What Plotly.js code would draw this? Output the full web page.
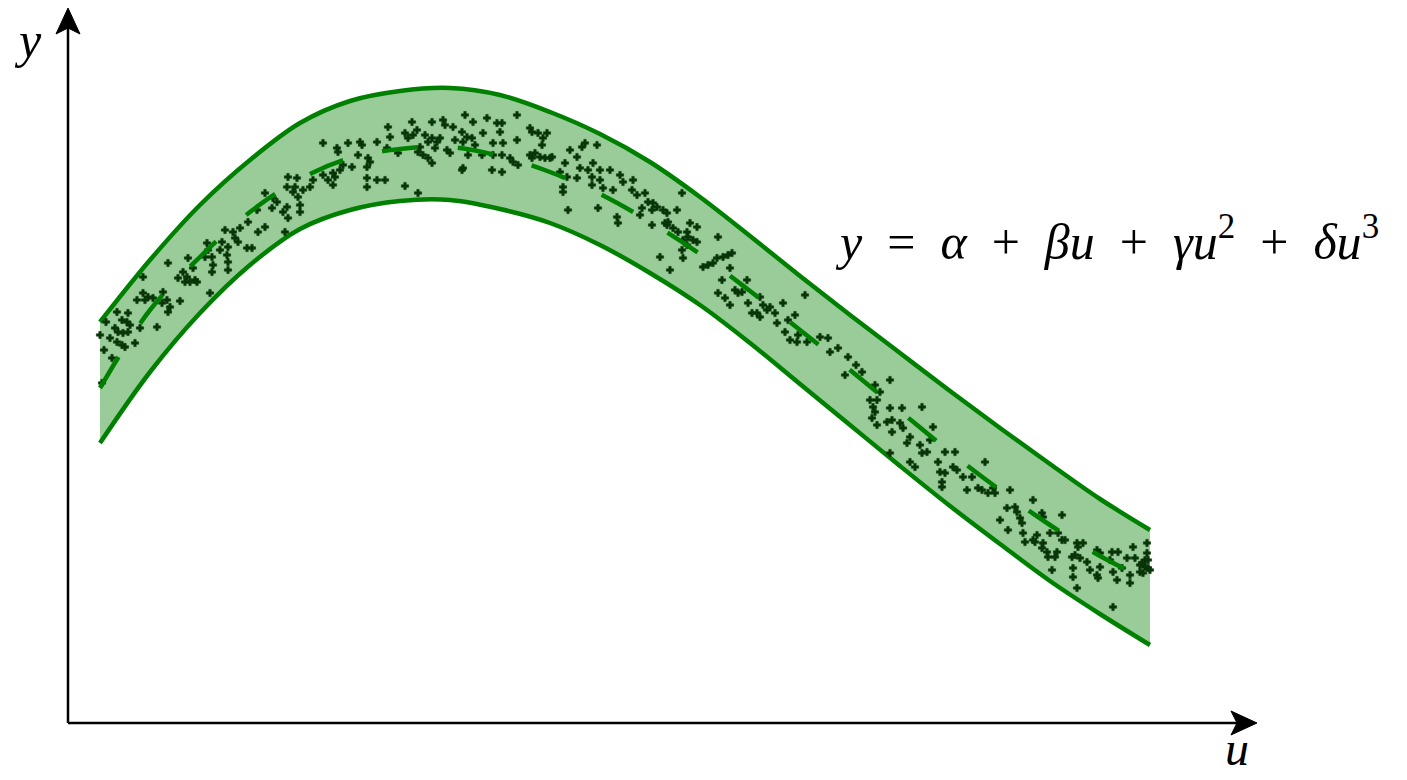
<!DOCTYPE html>
<html>
<head>
<meta charset="utf-8">
<script src="https://cdn.plot.ly/plotly-3.0.1.min.js"></script>
<style>
  html, body { margin: 0; padding: 0; background: #ffffff; }
  #chart { width: 1407px; height: 780px; }
</style>
</head>
<body>
<div id="chart"></div>
<script>
// Sample positions along u where the curve and its band are given
const curveU = [32, 82, 132, 182, 232, 282, 332, 382, 432, 482, 532, 582, 632, 682, 732, 782, 832, 882, 932, 982, 1032, 1082];
// Fitted cubic y = α + βu + γu² + δu³
const fitY = [335, 413, 466, 511, 544, 565, 574, 576, 567, 551, 529, 501, 469, 432, 393, 353, 312, 271, 233, 198, 167, 142];
// Upper and lower edges of the band around the fit
const bandUpper = [401, 463, 518, 563, 600, 622, 632, 635, 628, 611, 589, 561, 526, 487, 447, 408, 370, 332, 295, 259, 224, 193];
const bandLower = [280, 351, 410, 458, 494, 513, 522, 523, 514, 500, 478, 450, 418, 380, 339, 298, 257, 217, 179, 142, 109, 78];

// Observed samples (u, y)
const obsU = [
  75,80,77,85,95,94,99,102,100,112,69,49,60,54,59,62,72,89,50,55,60,49,54,57,67,44,32,34,38,42,36,47,
  220,229,219,225,230,197,205,209,204,215,219,220,189,180,172,157,165,197,190,217,167,170,154,160,152,179,184,139,140,137,144,159,160,145,144,160,120,100,125,115,110,119,127,117,75,142,122,129,
  255,269,270,280,292,294,290,300,302,299,309,322,320,330,319,337,344,349,340,345,352,350,355,360,364,357,364,375,377,385,394,387,397,405,399,404,407,382,367,364,360,395,394,275,284,272,265,267,255,260,265,245,242,235,227,232,232,299,309,317,299,337,350,379,369,372,
  419,429,434,432,449,415,395,425,435,449,462,464,470,479,475,474,462,467,464,472,477,482,484,442,445,450,434,424,425,434,400,414,497,502,509,514,517,529,492,499,509,495,495,512,520,525,524,532,542,532,524,535,545,552,555,565,564,569,577,580,585,589,584,595,599,609,574,572,584,599,549,550,530,500,614,622,629,
  600,597,605,610,619,620,625,629,615,619,614,615,602,592,650,660,655,649,645,640,635,664,654,662,679,667,670,674,650,657,662,680,692,695,699,702,689,692,707,684,709,715,727,720,717,730,737,752,760,739,729,722,
  770,780,788,777,794,762,
  822,807,812,802,809,805,807,804,809,822,834,854,819,824,832,835,824,842,839,852,854,859,865,862,822,842,847,870,877,887,872,877,874,874,885,889,895,904,910,914,920,927,925,917,899,942,965,
  939,947,949,932,940,954,955,952,974,975,994,982,990,994,969,967,975,974,979,980,987,989,984,1009,1015,1010,1004,1007,1012,1019,1005,1005,1009,1022,1029,1032,1029,1030,1032,1042,1044,1050,1045,1049,1054,1059,1065,1067,1072,1062,1062,1079,1079,1077,1080,1045,957,965,1077,1074,1082,1075,1072,1080,997
];
const obsY = [
  430,426,423,425,431,420,423,416,411,422,423,411,410,403,401,398,395,396,391,390,391,381,378,376,380,365,388,340,401,385,373,395,
  546,545,536,531,526,530,525,521,515,511,516,505,513,501,495,493,491,496,491,491,485,481,481,476,473,475,475,480,473,466,466,468,461,458,451,453,465,460,455,451,445,446,443,441,446,430,441,441,
  580,575,571,580,581,578,568,565,561,556,581,586,596,570,575,590,601,593,585,588,576,571,568,581,585,588,601,603,598,596,591,583,608,601,586,585,578,570,575,560,565,555,553,558,556,553,550,546,548,543,538,543,536,533,536,518,511,545,543,543,536,537,530,573,581,585,
  605,600,600,591,608,590,581,580,580,583,595,591,590,590,585,578,568,570,565,566,565,565,566,565,561,558,551,553,568,568,568,568,560,573,566,576,580,578,551,546,545,536,531,555,553,560,546,553,553,543,538,535,533,548,541,543,533,528,530,521,520,516,513,513,510,513,515,508,498,498,506,500,515,513,530,500,496,
  501,500,495,491,491,486,483,481,483,478,473,465,453,466,486,468,466,465,460,458,456,470,443,455,443,433,430,431,430,425,418,420,426,418,413,416,410,406,410,410,400,420,408,403,391,388,428,386,385,381,381,383,
  375,366,358,348,351,371,
  343,338,331,323,323,316,311,305,298,315,315,316,301,303,300,295,291,286,280,278,270,271,296,283,270,261,256,261,271,271,251,250,241,236,256,253,246,246,235,233,230,230,235,261,233,233,223,
  215,216,211,203,193,200,190,205,210,206,208,190,190,183,188,181,180,175,171,166,166,171,153,180,180,176,166,168,165,161,155,146,135,153,173,170,148,145,156,163,171,171,151,143,155,165,176,165,151,148,140,180,170,156,155,116,181,183,163,160,153,150,158,163,183
];

const green = '#008000';

const traces = [
  {
    x: curveU, y: bandLower, type: 'scatter', mode: 'lines',
    line: { color: green, width: 4.5, shape: 'spline', smoothing: 1 },
    hoverinfo: 'skip', showlegend: false
  },
  {
    x: curveU, y: bandUpper, type: 'scatter', mode: 'lines',
    fill: 'tonexty', fillcolor: 'rgba(0,128,0,0.4)',
    line: { color: green, width: 4.5, shape: 'spline', smoothing: 1 },
    hoverinfo: 'skip', showlegend: false
  },
  {
    x: obsU, y: obsY, type: 'scatter', mode: 'markers',
    marker: { symbol: 'cross', size: 6, color: '#093509', line: { width: 0.6, color: '#093509' } },
    hoverinfo: 'skip', showlegend: false
  },
  {
    x: curveU, y: fitY, type: 'scatter', mode: 'lines',
    line: { color: green, width: 4.5, dash: '36px,40px', shape: 'spline', smoothing: 1 },
    hoverinfo: 'skip', showlegend: false
  }
];

const hiddenAxis = {
  showgrid: false, zeroline: false, showline: false,
  showticklabels: false, ticks: '', fixedrange: true
};

const serif = 'Liberation Serif, DejaVu Serif, serif';
const sp = '\u2002';

// Axis lines with stealth arrowheads, in paper units
const axisShapes = [
  { type: 'line', xref: 'paper', yref: 'paper', x0: 0, y0: 0, x1: 0.985, y1: 0,
    line: { color: '#000000', width: 2.5 } },
  { type: 'line', xref: 'paper', yref: 'paper', x0: 0, y0: 0, x1: 0, y1: 0.975,
    line: { color: '#000000', width: 2.5 } },
  { type: 'path', xref: 'paper', yref: 'paper',
    path: 'M1,0 L0.97813,0.01678 L0.98318,0 L0.97813,-0.01678 Z',
    fillcolor: '#000000', line: { color: '#000000', width: 1 } },
  { type: 'path', xref: 'paper', yref: 'paper',
    path: 'M0,1 L0.01009,0.96364 L0,0.97203 L-0.01009,0.96364 Z',
    fillcolor: '#000000', line: { color: '#000000', width: 1 } }
];

const layout = {
  width: 1407, height: 780,
  margin: { l: 68, r: 150, t: 8, b: 57, pad: 0 },
  paper_bgcolor: '#ffffff', plot_bgcolor: '#ffffff',
  xaxis: Object.assign({ range: [0, 1189] }, hiddenAxis),
  yaxis: Object.assign({ range: [0, 715] }, hiddenAxis),
  showlegend: false,
  shapes: axisShapes,
  annotations: [
    { x: -0.0336, y: 0.955, xref: 'paper', yref: 'paper', text: '<i>y</i>', showarrow: false,
      font: { family: serif, size: 50, color: '#000000' }, xanchor: 'center', yanchor: 'middle' },
    { x: 0.983, y: -0.0755, xref: 'paper', yref: 'paper', text: '<i>u</i>', showarrow: false,
      font: { family: serif, size: 48, color: '#000000' }, xanchor: 'center', yanchor: 'bottom' },
    { x: 765, y: 485, xref: 'x', yref: 'y',
      text: '<i>y</i>' + sp + '=' + sp + '<i>α</i>' + sp + '+' + sp + '<i>βu</i>' + sp + '+' + sp +
            '<i>γu</i><sup>2</sup>' + sp + '+' + sp + '<i>δu</i><sup>3</sup>',
      showarrow: false, font: { family: serif, size: 50, color: '#000000' },
      xanchor: 'left', yanchor: 'middle' }
  ]
};

Plotly.newPlot('chart', traces, layout, { displayModeBar: false, staticPlot: true });
</script>
</body>
</html>
